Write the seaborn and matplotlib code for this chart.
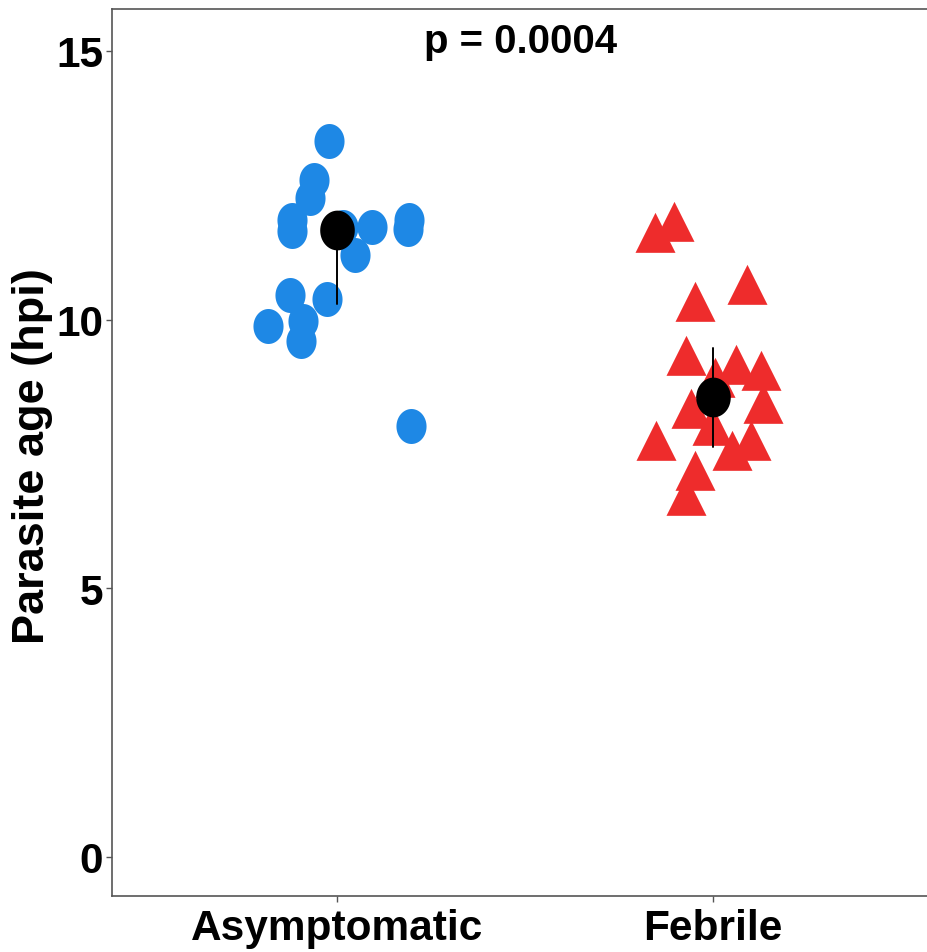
import numpy as np
import pandas as pd
import matplotlib
matplotlib.use("Agg")
import matplotlib.pyplot as plt
import seaborn as sns
from matplotlib.path import Path
from matplotlib import font_manager

# ---- data -------------------------------------------------------------
groups = ["Asymptomatic", "Febrile"]

asym_age = [13.33, 12.59, 12.27, 11.85, 11.64, 11.73, 11.73, 11.20,
            11.85, 11.69, 10.45, 10.39, 9.89, 9.97, 9.61, 8.02]
asym_jitter = [-0.022, -0.062, -0.074, -0.121, -0.121, 0.016, 0.091, 0.047,
               0.191, 0.187, -0.126, -0.028, -0.184, -0.092, -0.097, 0.195]

febrile_age = [11.71, 11.50, 10.53, 10.22, 9.21, 9.04, 8.93, 8.81,
               8.32, 8.23, 7.91, 7.63, 7.63, 7.44, 7.07, 6.61]
febrile_jitter = [-0.105, -0.155, 0.089, -0.048, -0.071, 0.062, 0.126, 0.005,
                  0.133, -0.059, -0.004, -0.151, 0.102, 0.049, -0.049, -0.071]

p_label = "p = 0.0004"
y_ticks = [0, 5, 10, 15]

df = pd.DataFrame({
    "group": [groups[0]] * len(asym_age) + [groups[1]] * len(febrile_age),
    "age": asym_age + febrile_age,
    "jitter": asym_jitter + febrile_jitter,
})
df["pos"] = df["group"].map({g: i for i, g in enumerate(groups)}) + df["jitter"]

# ---- style ------------------------------------------------------------
sns.set_style("white")
installed = {f.name for f in font_manager.fontManager.ttflist}
main_font = "Liberation Sans" if "Liberation Sans" in installed else "DejaVu Sans"
plt.rcParams["font.family"] = [main_font, "DejaVu Sans"]
fam = [main_font, "DejaVu Sans"]

blue = "#1E88E5"
red = "#EE2C2C"

# slightly tall ellipse and a centroid-centred triangle
theta = np.linspace(0, 2 * np.pi, 65)
ellipse = Path(np.column_stack([0.86 * np.cos(theta), np.sin(theta)]), closed=True)
triangle = Path([(0, 1), (-0.75, -0.5), (0.75, -0.5), (0, 1)], closed=True)

fig = plt.figure(figsize=(9.27, 9.53), dpi=100)
ax = fig.add_axes([112 / 927, 56 / 953, 826.6 / 927, 887 / 953])

sub_a = df[df["group"] == groups[0]]
sub_f = df[df["group"] == groups[1]]
sns.scatterplot(data=sub_a, x="pos", y="age", color=blue, marker=ellipse,
                s=25.2 ** 2, linewidth=0, legend=False, ax=ax)
sns.scatterplot(data=sub_f, x="pos", y="age", color=red, marker=triangle,
                s=38.4 ** 2, linewidth=0, legend=False, ax=ax)

# median with interquartile range
sns.pointplot(data=df, x="group", y="age", order=groups, estimator=np.median,
              errorbar=("pi", 50), color="black", markers=ellipse,
              linestyles="none", markersize=26.6,
              err_kws={"linewidth": 1.4, "color": "black"}, ax=ax)

ax.set_xlim(-0.6, 1.6)
ax.set_ylim(-0.726, 15.78)

ax.set_xticks([0, 1])
ax.set_xticklabels(groups, family=fam, fontweight="bold", fontsize=30.5,
                   color="black")
ax.set_yticks(y_ticks)
ax.set_yticklabels([str(t) for t in y_ticks], family=fam,
                   fontweight="bold", fontsize=30.5, color="black")
ax.tick_params(axis="both", which="major", length=4, width=1.0,
               color="#555555", direction="out", left=True, bottom=True)
ax.tick_params(axis="x", pad=5)
ax.tick_params(axis="y", pad=2.5)

ax.set_xlabel("")
ax.set_ylabel("Parasite age (hpi)", family=fam, fontweight="bold",
              fontsize=32.5, color="black")
ax.yaxis.set_label_coords(-0.071, 0.4966)

for side in ["left", "bottom", "top"]:
    ax.spines[side].set_visible(True)
    ax.spines[side].set_color("#555555")
    ax.spines[side].set_linewidth(1.2)
ax.spines["right"].set_visible(False)

ax.text(0.487, 14.98, p_label, ha="center", va="baseline",
        family=fam, fontweight="bold", fontsize=29, color="black")

fig.savefig("out.png", dpi=100, facecolor="white")
